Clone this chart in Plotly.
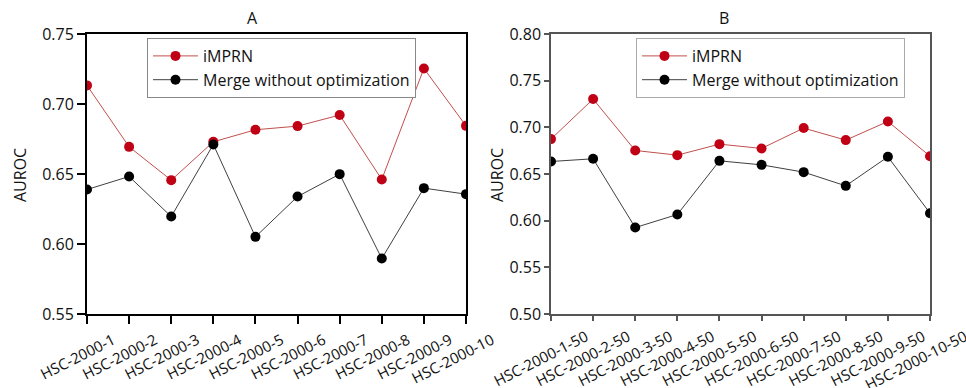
import plotly.graph_objects as go

cats_a = [f"HSC-2000-{i}" for i in range(1, 11)]
cats_b = [f"HSC-2000-{i}-50" for i in range(1, 11)]

imprn_a = [0.7133, 0.6694, 0.6456, 0.6730, 0.6816, 0.6842, 0.6921, 0.6461, 0.7254, 0.6844]
merge_a = [0.6389, 0.6482, 0.6196, 0.6711, 0.6051, 0.6339, 0.6499, 0.5896, 0.6399, 0.6356]

imprn_b = [0.6874, 0.7303, 0.6752, 0.6702, 0.6820, 0.6774, 0.6992, 0.6863, 0.7063, 0.6691]
merge_b = [0.6634, 0.6663, 0.5926, 0.6066, 0.6641, 0.6598, 0.6520, 0.6373, 0.6684, 0.6080]

yticks_a = [0.55, 0.60, 0.65, 0.70, 0.75]
yticks_b = [0.50, 0.55, 0.60, 0.65, 0.70, 0.75, 0.80]

W, H = 966, 388
FONT = "Open Sans"
RED_M, RED_L = "#c00015", "#c0504d"
BLK_M, BLK_L = "#000000", "#404040"

fig = go.Figure()

def add_pair(cats, imprn, merge, xa, ya, leg):
    fig.add_trace(go.Scatter(x=cats, y=imprn, mode="lines+markers", name="iMPRN",
                             xaxis=xa, yaxis=ya, legend=leg,
                             line=dict(color=RED_L, width=1),
                             marker=dict(color=RED_M, size=10)))
    fig.add_trace(go.Scatter(x=cats, y=merge, mode="lines+markers", name="Merge without optimization",
                             xaxis=xa, yaxis=ya, legend=leg,
                             line=dict(color=BLK_L, width=1),
                             marker=dict(color=BLK_M, size=10)))

add_pair(cats_a, imprn_a, merge_a, "x", "y", "legend")
add_pair(cats_b, imprn_b, merge_b, "x2", "y2", "legend2")

ydom = [1 - 314 / H, 1 - 34 / H]

def xaxis_cfg(dom, col, lw, tlen, shift):
    return dict(domain=dom, type="category", range=[0, 9], showgrid=False, zeroline=False,
                showline=True, linecolor=col, linewidth=lw, mirror=True, automargin=False,
                ticks="outside", ticklen=tlen, tickwidth=lw, tickcolor=col,
                tickangle=-27, ticklabelshift=shift, ticklabelstandoff=2,
                tickfont=dict(family=FONT, size=15, color="#111"))

def yaxis_cfg(anchor, rng, tv, col, lw, tlen):
    return dict(domain=ydom, anchor=anchor, range=rng, tickvals=tv, automargin=False,
                ticktext=[f"{v:.2f}" for v in tv], showgrid=False, zeroline=False,
                showline=True, linecolor=col, linewidth=lw, mirror=True,
                ticks="outside", ticklen=tlen, tickwidth=lw, tickcolor=col,
                tickfont=dict(family=FONT, size=16, color="#111"))

def legend_cfg(xp, bc):
    return dict(x=xp / W, y=1 - 38 / H, xanchor="left", yanchor="top",
                bordercolor=bc, borderwidth=1, bgcolor="white", itemwidth=45,
                font=dict(family=FONT, size=16, color="#111"), tracegroupgap=0)

fig.update_layout(
    width=W, height=H, margin=dict(l=0, r=0, t=0, b=0, autoexpand=False),
    paper_bgcolor="white", plot_bgcolor="white",
    font=dict(family=FONT, color="#111"),
    xaxis=xaxis_cfg([87 / W, 466 / W], "#000", 2, 8, 26),
    yaxis=yaxis_cfg("x", [0.55, 0.75], yticks_a, "#000", 2, 8),
    xaxis2=dict(xaxis_cfg([551 / W, 930 / W], "#555", 1.5, 5, 35), anchor="y2"),
    yaxis2=yaxis_cfg("x2", [0.50, 0.80], yticks_b, "#555", 1.5, 5),
    legend=legend_cfg(147, "#888"),
    legend2=legend_cfg(636, "#aaa"),
    showlegend=True,
)

for txt, xp in [("A", 252), ("B", 724)]:
    fig.add_annotation(text=txt, x=xp / W, y=1 - 18 / H, xref="paper", yref="paper",
                       showarrow=False, xanchor="center", yanchor="middle",
                       font=dict(family=FONT, size=16, color="#111"))
for xp in [20, 497]:
    fig.add_annotation(text="AUROC", x=xp / W, y=1 - 175 / H, xref="paper", yref="paper",
                       showarrow=False, textangle=-90, xanchor="center", yanchor="middle",
                       font=dict(family=FONT, size=16, color="#111"))

fig.write_html("out.html")
